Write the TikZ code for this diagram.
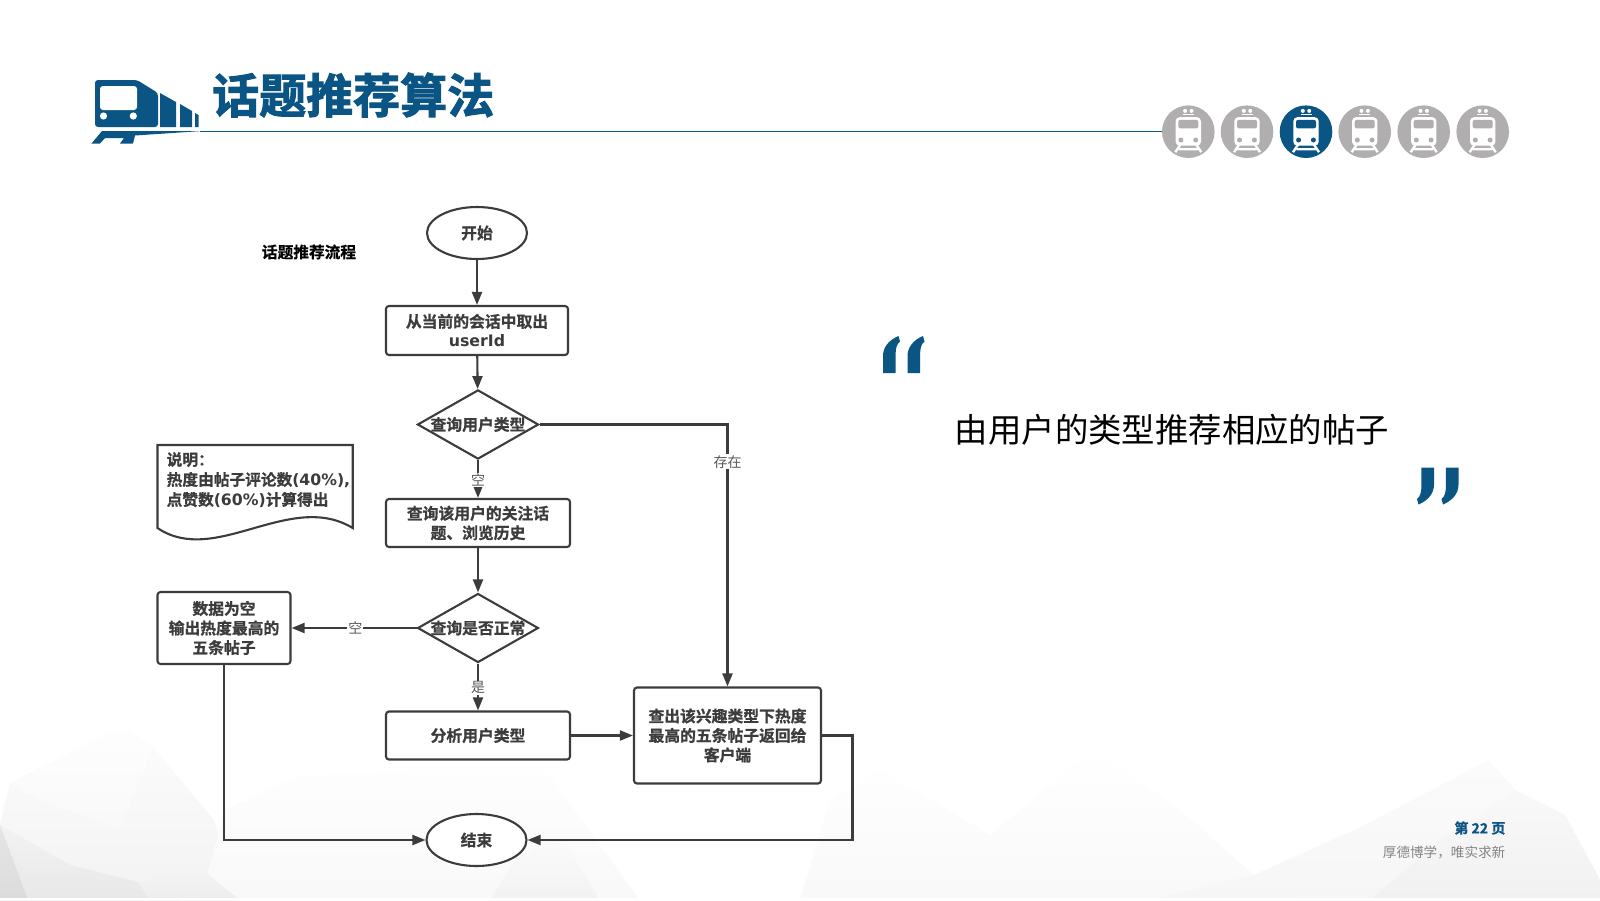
\documentclass[tikz,border=0pt]{standalone}
\usepackage{fontspec}
\usetikzlibrary{shapes.geometric,arrows.meta}
\setmainfont{Noto Sans CJK SC}
\newfontfamily\cjkb[FakeBold=0.8]{Noto Sans CJK SC Bold}
\newfontfamily\cjkt[FakeBold=2.2]{Noto Sans CJK SC Bold}
\newfontfamily\cjkr{Noto Sans CJK SC}
\newfontfamily\latb{DejaVu Sans Bold}
\definecolor{brand}{HTML}{0B5585}
\definecolor{coin}{HTML}{B0AEAE}
\definecolor{ink}{HTML}{3C3C3C}
\tikzset{
  flow/.style={draw=ink,fill=white,line width=2.1pt,text=ink,align=center,font=\cjkb\fontsize{15.8}{19.5}\selectfont,inner sep=0pt},
  procbox/.style={flow,rectangle,rounded corners=3pt},
  deci/.style={flow,diamond,aspect=1.75,inner sep=0pt,minimum width=119pt,minimum height=68pt},
  term/.style={flow,ellipse,inner sep=0pt,minimum width=100pt,minimum height=52pt},
  link/.style={draw=ink,line width=2.1pt,-{Triangle[length=13pt,width=10pt]}},
  tag/.style={font=\cjkr\fontsize{14}{14}\selectfont,text=ink!85,fill=white,inner sep=1pt},
  peak/.style={top color=white!#1!black,bottom color=white!96!black,draw=none},
  peak/.default=99,
}
\newcommand{\quotemark}[1]{\fill[brand,shift={(#1,0)}] (883,373) -- (883,356) .. controls (883,347) and (889,340) .. (898.5,336) -- (900,341.5) .. controls (896.5,344) and (895.6,349) .. (895.6,355) -- (895.6,373) -- cycle;}
\newcommand{\coinicon}[3]{%
 \begin{scope}[shift={(#1,131.7)}]
  \fill[#2] (0,0) circle (26.3);
  \fill[#3,rounded corners=4pt] (-12.7,-14.5) rectangle (12.7,14);
  \fill[#2,rounded corners=2pt] (-10,-11.8) rectangle (10,-3.3);
  \fill[#2] (-7.4,8.3) circle (2.5) (7.4,8.3) circle (2.5);
  \fill[#3] (-3.2,-20.8) circle (2) (3.2,-20.8) circle (2);
  \fill[#3] (-5.5,-17.8) rectangle (5.5,-16.4);
  \draw[#3,line width=2.4pt] (-8,13) -- (-13,20.5) (8,13) -- (13,20.5) (-9.5,17.5) -- (9.5,17.5);
 \end{scope}}
\begin{document}
\begin{tikzpicture}[x=1pt,y=-1pt]
\useasboundingbox (0,0) rectangle (1600,900);
\fill[white] (0,0) rectangle (1600,900);
% background low-poly mountains
\shade[top color=white!99!black,bottom color=white!95!black] (0,825) -- (10,783) -- (122,727) -- (153,747) -- (214,820) -- (240,900) -- (0,900) -- cycle;
\shade[top color=white!99.5!black,bottom color=white!97.5!black] (10,783) -- (122,727) -- (153,747) -- (120,830) -- (40,800) -- cycle;
\shade[top color=white!99.5!black,bottom color=white!97.5!black] (225,810) -- (300,775) -- (430,770) -- (545,770) -- (640,900) -- (200,900) -- cycle;
\shade[top color=white!98.5!black,bottom color=white!95!black] (515,860) -- (560,835) -- (600,900) -- (490,900) -- cycle;
\shade[top color=white!95!black,bottom color=white!91!black] (0,825) -- (70,865) -- (138,882) -- (180,900) -- (0,900) -- cycle;
\shade[top color=white!90!black,bottom color=white!86!black] (0,825) -- (28,900) -- (0,900) -- cycle;
\shade[top color=white!96!black,bottom color=white!93!black] (138,882) -- (200,868) -- (240,900) -- (150,900) -- cycle;
\shade[top color=white!100!black,bottom color=white!97.5!black] (800,900) -- (830,800) -- (880,770) -- (990,835) -- (1093,750) -- (1180,810) -- (1254,875) -- (1300,900) -- cycle;
\shade[top color=white!98.5!black,bottom color=white!96.5!black] (1254,875) -- (1361,827) -- (1489,760) -- (1515,790) -- (1565,815) -- (1600,880) -- (1600,900) -- (1150,900) -- cycle;
\shade[top color=white!97.5!black,bottom color=white!94.5!black] (1370,900) -- (1440,840) -- (1515,790) -- (1565,815) -- (1600,880) -- (1600,900) -- cycle;
\fill[white] (0,897.5) rectangle (1600,900);
% header
\draw[brand,line width=1pt] (200,131) -- (1170,131);
\fill[brand,rounded corners=3pt] (95,127) -- (95,80) -- (137,80) -- (158,93) -- (158,127) -- cycle;
\fill[white,rounded corners=3pt] (100,86) rectangle (137,110);
\fill[white] (103.5,116) circle (3.6) (133.3,116) circle (3.6);
\fill[brand] (160,93) -- (176,102) -- (176,127) -- (160,127) -- cycle;
\fill[brand] (180,104) -- (192,111) -- (192,127) -- (180,127) -- cycle;
\fill[brand] (195,113) -- (198.5,115) -- (198.5,127) -- (195,127) -- cycle;
\fill[brand] (102,131) -- (202,131) -- (135,135.5) -- (133,143.5) -- (120,143.5) -- (124,138) -- (105,138) -- (100,143.5) -- (91.5,143.5) -- cycle;
\node[anchor=west,text=brand,font=\cjkt\fontsize{47}{47}\selectfont,inner sep=0pt] (title) at (212,95) {话题推荐算法};
\coinicon{1188.3}{coin}{white}
\coinicon{1247}{coin}{white}
\coinicon{1306}{brand}{white}
\coinicon{1364.7}{coin}{white}
\coinicon{1423.7}{coin}{white}
\coinicon{1482.7}{coin}{white}
% flowchart
\node[font=\cjkb\fontsize{15.7}{19}\selectfont,text=black] (cap) at (309,252) {话题推荐流程};
\node[term] (start) at (477,233) {开始};
\node[procbox,minimum width=182pt,minimum height=49pt] (b1) at (477,330.5) {从当前的会话中取出\\{\latb userId}};
\node[deci] (d1) at (478,424.5) {查询用户类型};
\node[procbox,minimum width=184pt,minimum height=48pt] (b2) at (478,523) {查询该用户的关注话\\题、浏览历史};
\node[deci] (d2) at (478,628) {查询是否正常};
\node[procbox,minimum width=133pt,minimum height=72pt] (b3) at (224,628) {数据为空\\输出热度最高的\\五条帖子};
\node[procbox,minimum width=184pt,minimum height=48pt] (b4) at (478,735.5) {分析用户类型};
\node[procbox,minimum width=187pt,minimum height=96pt] (b5) at (727.5,735.5) {\parbox[c]{172pt}{\centering 查出该兴趣类型下热度\\最高的五条帖子返回给\\客户端}};
\node[term] (stop) at (476.5,840) {结束};
\coordinate (jog) at (852.5,840);
\draw[link] (start) -- (b1);
\draw[link] (b1) -- (d1);
\draw[link] (d1) -- (b2) node[tag,pos=0.52] {空};
\draw[link] (b2) -- (d2);
\draw[link] (d2) -- (b3) node[tag,pos=0.49] {空};
\draw[link] (d2) -- (b4) node[tag,pos=0.52] {是};
\draw[link] (b4) -- (b5);
\draw[link] (d1.east) -| (b5.north) node[tag,pos=0.571] {存在};
\draw[link] (b3.south) |- (stop.west);
\draw[link] (b5.east) -| (jog) -- (stop.east);
% note
\draw[draw=ink,line width=2.1pt,line join=miter,fill=white] (157.5,445) -- (352.7,445) -- (352.7,528) .. controls (290,490) and (215,567) .. (157.5,528) -- cycle;
\node[anchor=north west,align=left,inner sep=0pt,text=ink,font=\cjkb\fontsize{15.7}{20}\selectfont] (note) at (166.5,452) {说明：\\热度由帖子评论数{\latb(40\%),}\\点赞数{\latb(60\%)}计算得出};
% quote
\quotemark{0}
\quotemark{24.5}
\begin{scope}[shift={(2341.5,840.5)},xscale=-1,yscale=-1]
\quotemark{0}
\quotemark{24.5}
\end{scope}
\node[font=\cjkr\fontsize{33.4}{33}\selectfont,text=black,inner sep=0pt] (quote) at (1172,430) {由用户的类型推荐相应的帖子};
% footer
\node[anchor=east,text=brand,inner sep=0pt,font=\cjkb\fontsize{14}{14}\selectfont] (page) at (1505.5,828) {第 22 页};
\node[anchor=east,text=black!48,inner sep=0pt,font=\cjkr\fontsize{13.6}{14}\selectfont] (motto) at (1505.5,852) {厚德博学，唯实求新};
\end{tikzpicture}
\end{document}
